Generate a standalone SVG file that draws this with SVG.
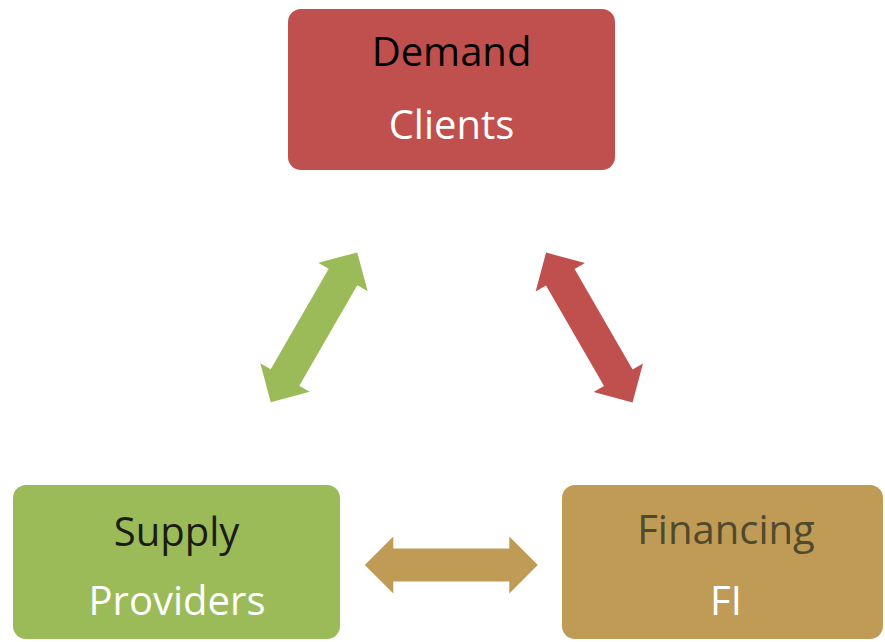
<svg xmlns="http://www.w3.org/2000/svg" width="885" height="642" viewBox="0 0 885 642">
  <style>
    .lbl { font-family: "Open Sans", "Noto Sans", "Liberation Sans", sans-serif; font-size: 40px; text-anchor: middle; }
    .white { fill: #ffffff; }
  </style>
  <defs>
    <path id="dbl" d="M -86.5,0 L -58,-28.5 L -58,-16.5 L 58,-16.5 L 58,-28.5 L 86.5,0 L 58,28.5 L 58,16.5 L -58,16.5 L -58,28.5 Z"/>
  </defs>
  <rect width="885" height="642" fill="#ffffff"/>

  <g id="connectors">
    <use href="#dbl" fill="#9BBB59" transform="translate(314,327.3) rotate(-60)"/>
    <use href="#dbl" fill="#C0504D" transform="translate(589.3,327.5) rotate(60)"/>
    <use href="#dbl" fill="#C09B55" transform="translate(451.3,565)"/>
  </g>

  <g id="demand">
    <rect x="288" y="9" width="327" height="161" rx="13" fill="#C0504D"/>
    <text class="lbl" x="451.5" y="66" fill="#000000">Demand</text>
    <text class="lbl white" x="451.5" y="139">Clients</text>
  </g>

  <g id="supply">
    <rect x="13" y="485" width="327" height="154" rx="13" fill="#9BBB59"/>
    <text class="lbl" x="176.5" y="546" fill="#1c1c14">Supply</text>
    <text class="lbl white" x="177" y="615">Providers</text>
  </g>

  <g id="financing">
    <rect x="562" y="485" width="321" height="154" rx="13" fill="#C09B55"/>
    <text class="lbl" x="726" y="544" fill="#4f4a2e">Financing</text>
    <text class="lbl white" x="726" y="615">FI</text>
  </g>
</svg>
